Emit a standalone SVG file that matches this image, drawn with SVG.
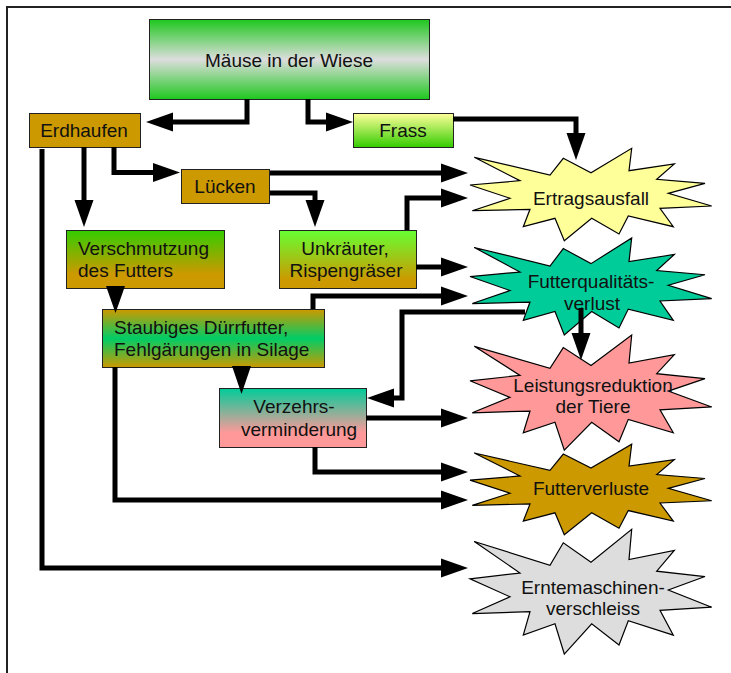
<svg xmlns="http://www.w3.org/2000/svg" xmlns:xlink="http://www.w3.org/1999/xlink" width="731" height="673" viewBox="0 0 731 673">
<style>
.box{stroke:#222;stroke-width:1}
.star{stroke:#000;stroke-width:1.2}
.t{font-family:"Liberation Sans",Arial,sans-serif;font-size:19px;fill:#111}
.c{text-anchor:middle}
.ln{fill:none;stroke:#000;stroke-width:5;stroke-linejoin:miter}
.ah{fill:#000}
</style>
<defs>
<marker id="arr" markerUnits="userSpaceOnUse" markerWidth="28" markerHeight="20" refX="0" refY="9.5" orient="auto" viewBox="0 0 28 20" overflow="visible">
<path d="M0,0 L27,9.5 L0,19 Z" fill="#000"/>
</marker>
<path id="star" vector-effect="non-scaling-stroke" d="M-116.7,-36.7 L-41,-19 L-27.7,-35.7 L0,-21.3 L40.7,-45.7 L38,-23.3 L83.3,-30 L65.7,-14.7 L114,-10.7 L77.3,-0.7 L120.7,12 L69,14.3 L82.3,32.7 L37.3,22 L28,40 L0.7,24.3 L-26.7,46.7 L-36,24.3 L-67.7,32.7 L-61,15.3 L-118.7,16.7 L-81,4.3 L-121,-9 L-71,-13.3 Z"/>
<linearGradient id="gMaeuse" x1="0" y1="0" x2="0" y2="1">
<stop offset="0" stop-color="#1ec81e"/><stop offset="0.5" stop-color="#dddddd"/><stop offset="1" stop-color="#1ec81e"/>
</linearGradient>
<linearGradient id="gFrass" x1="0" y1="0" x2="0" y2="1">
<stop offset="0" stop-color="#ffff99"/><stop offset="1" stop-color="#33cc00"/>
</linearGradient>
<linearGradient id="gVersch" x1="0" y1="0" x2="0" y2="1">
<stop offset="0" stop-color="#33cc00"/><stop offset="0.75" stop-color="#cc9900"/><stop offset="1" stop-color="#cc9900"/>
</linearGradient>
<linearGradient id="gUnk" x1="0" y1="0" x2="0" y2="1">
<stop offset="0" stop-color="#66ff33"/><stop offset="0.85" stop-color="#cc9900"/><stop offset="1" stop-color="#cc9900"/>
</linearGradient>
<linearGradient id="gStaub" x1="0" y1="0" x2="0" y2="1">
<stop offset="0" stop-color="#cc9900"/><stop offset="0.5" stop-color="#00cc66"/><stop offset="1" stop-color="#cc9900"/>
</linearGradient>
<linearGradient id="gVerz" x1="0" y1="0" x2="0" y2="1">
<stop offset="0" stop-color="#00cc99"/><stop offset="0.75" stop-color="#ff9999"/><stop offset="1" stop-color="#ff9999"/>
</linearGradient>
</defs>

<rect width="731" height="673" fill="#fff"/>
<path d="M7,673 V7 H731" fill="none" stroke="#222" stroke-width="2"/>

<g id="maeuse"><rect class="box" x="149.5" y="19.5" width="280" height="80" fill="url(#gMaeuse)"/><text class="t c" x="289" y="67">Mäuse in der Wiese</text></g>
<g id="erdhaufen"><rect class="box" x="29.5" y="113.5" width="111" height="34" fill="#cc9900"/><text class="t c" x="84" y="137">Erdhaufen</text></g>
<g id="frass"><rect class="box" x="353.5" y="113.5" width="100" height="34" fill="url(#gFrass)"/><text class="t c" x="403" y="137">Frass</text></g>
<g id="luecken"><rect class="box" x="181.5" y="169.5" width="88" height="34" fill="#cc9900"/><text class="t c" x="225" y="193">Lücken</text></g>
<g id="verschmutzung"><rect class="box" x="66.5" y="230.5" width="158" height="58" fill="url(#gVersch)"/><text class="t" x="78" y="255">Verschmutzung</text><text class="t" x="78" y="277">des Futters</text></g>
<g id="unkraeuter"><rect class="box" x="279.5" y="230.5" width="137" height="58" fill="url(#gUnk)"/><text class="t c" x="345" y="255">Unkräuter,</text><text class="t c" x="346" y="277">Rispengräser</text></g>
<g id="staubiges"><rect class="box" x="102.5" y="309.5" width="222" height="58" fill="url(#gStaub)"/><text class="t" x="114" y="334">Staubiges Dürrfutter,</text><text class="t" x="114" y="356">Fehlgärungen in Silage</text></g>
<g id="verzehrs"><rect class="box" x="219.5" y="388.5" width="147" height="59" fill="url(#gVerz)"/><text class="t c" x="294" y="413">Verzehrs-</text><text class="t c" x="299" y="436">verminderung</text></g>

<g id="ertragsausfall"><use xlink:href="#star" class="star" fill="#ffff99" transform="translate(591,194)"/><text class="t c" x="591" y="205">Ertragsausfall</text></g>
<g id="futterqualitaet"><use xlink:href="#star" class="star" fill="#00cc99" transform="translate(591,286) scale(1,1.05)"/><text class="t c" x="591" y="288">Futterqualitäts-</text><text class="t c" x="592" y="310">verlust</text></g>
<g id="leistungsreduktion"><use xlink:href="#star" class="star" fill="#ff9999" transform="translate(591,392) scale(1,1.245)"/><text class="t c" x="593" y="392">Leistungsreduktion</text><text class="t c" x="593" y="413">der Tiere</text></g>
<g id="futterverluste"><use xlink:href="#star" class="star" fill="#cc9900" transform="translate(591,489) scale(1,0.98)"/><text class="t c" x="591" y="495">Futterverluste</text></g>
<g id="erntemaschinen"><use xlink:href="#star" class="star" fill="#dddddd" transform="translate(591,591) scale(1,1.35)"/><text class="t c" x="593" y="594">Erntemaschinen-</text><text class="t c" x="593" y="615">verschleiss</text></g>

<g id="connectors">
<path class="ln" marker-end="url(#arr)" d="M247,99 V122 H173"/>
<path class="ln" marker-end="url(#arr)" d="M308,99 V122 H326"/>
<path class="ln" marker-end="url(#arr)" d="M453,119 H576 V133"/>
<path class="ln" marker-end="url(#arr)" d="M84,147 V200"/>
<path class="ln" marker-end="url(#arr)" d="M114,147 V172.5 H153"/>
<path class="ln" marker-end="url(#arr)" d="M42,149 V568 H441"/>
<path class="ln" marker-end="url(#arr)" d="M270,173 H441"/>
<path class="ln" marker-end="url(#arr)" d="M270,193 H315 V200"/>
<path class="ln" marker-end="url(#arr)" d="M407,230 V198 H441"/>
<path class="ln" marker-end="url(#arr)" d="M416,267 H441"/>
<polygon class="ah" points="106,286 125,286 115.5,313"/>
<path class="ln" marker-end="url(#arr)" d="M313,309 V296 H441"/>
<polygon class="ah" points="232,366 251,366 241.5,394"/>
<path class="ln" marker-end="url(#arr)" d="M525,312 H402 V398 H394"/>
<path class="ln" marker-end="url(#arr)" d="M581,308 V333"/>
<path class="ln" marker-end="url(#arr)" d="M366,418 H441"/>
<path class="ln" marker-end="url(#arr)" d="M315,447 V472 H441"/>
<path class="ln" marker-end="url(#arr)" d="M115,367 V500 H441"/>
</g>
</svg>
